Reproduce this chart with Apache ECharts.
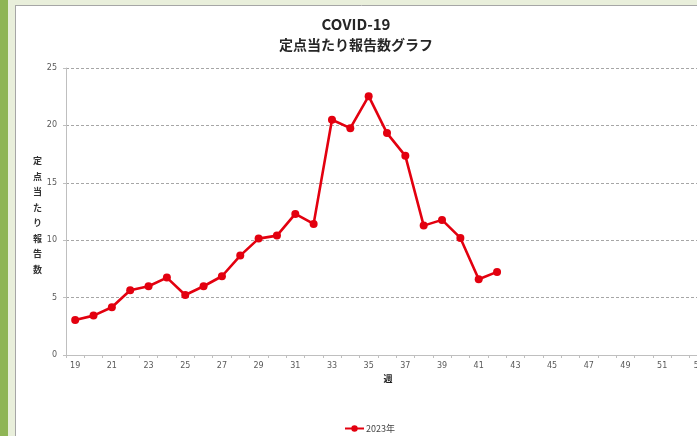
<!DOCTYPE html>
<html><head><meta charset="utf-8">
<script src="https://cdn.jsdelivr.net/npm/echarts@6/dist/echarts.min.js"></script>
<style>html,body{margin:0;padding:0;background:#fff;overflow:hidden;width:697px;height:436px}#c{width:708px;height:436px}</style>
</head><body><div id="c"></div>
<script>
const weeks = [];
for (let w = 19; w <= 53; w++) weeks.push(String(w));
const values2023 = [3.05,3.43,4.16,5.64,5.99,6.74,5.23,5.99,6.86,8.66,10.14,10.40,12.29,11.42,20.49,19.76,22.55,19.33,17.35,11.27,11.77,10.20,6.60,7.24];
const seriesName = '2023年';
const titleLine1 = 'COVID-19';
const titleLine2 = '定点当たり報告数グラフ';
const yName = '定点当たり報告数';
const xName = '週';

const jp = '"Noto Sans CJK JP", "DejaVu Sans", sans-serif';
const chart = echarts.init(document.getElementById('c'));
chart.setOption({
  backgroundColor: '#ffffff',
  animation: false,
  graphic: [
    {type:'rect', x:0, y:0, shape:{width:8, height:436}, style:{fill:'#8fb555'}, z:-1},
    {type:'rect', x:8, y:0, shape:{width:700, height:5}, style:{fill:'#e9efdb'}, z:-1},
    {type:'rect', x:8, y:0, shape:{width:7, height:436}, style:{fill:'#e9efdb'}, z:-1},
    {type:'line', shape:{x1:15.5, y1:5, x2:15.5, y2:436}, style:{stroke:'#a6a6a6', lineWidth:1}, z:-1},
    {type:'line', shape:{x1:15, y1:5.5, x2:708, y2:5.5}, style:{stroke:'#a6a6a6', lineWidth:1}, z:-1},
    {type:'text', x:356, y:17, style:{text:titleLine1, font:'bold 15px ' + jp, fill:'#262626', textAlign:'center'}},
    {type:'text', x:356, y:38, style:{text:titleLine2, font:'bold 14px ' + jp, fill:'#262626', textAlign:'center'}},
    {type:'text', x:33, y:153, style:{text:yName.split('').join('\n'), font:'bold 9px ' + jp, lineHeight:15.5, fill:'#333', textAlign:'left'}},
    {type:'text', x:388, y:374, style:{text:xName, font:'bold 9px ' + jp, fill:'#222', textAlign:'center'}}
  ],
  legend: {
    data:[seriesName],
    left: 339, top: 419,
    itemWidth: 19, itemHeight: 8, itemGap: 4,
    textStyle:{fontSize:9, color:'#444', fontFamily: jp, padding:[0,0,0,-3]}
  },
  grid: {left:66, right:0, top:68, bottom:81},
  xAxis: {
    type:'category', data:weeks, boundaryGap:true,
    axisLine:{lineStyle:{color:'#bfbfbf', width:1}},
    axisTick:{show:true, interval:0, length:3, lineStyle:{color:'#bfbfbf'}},
    axisLabel:{interval:1, fontSize:8, color:'#595959', margin:7, fontFamily:'"DejaVu Sans", sans-serif'},
    splitLine:{show:false}
  },
  yAxis: {
    type:'value', min:0, max:25, interval:5,
    axisLine:{show:true, lineStyle:{color:'#bfbfbf', width:1}},
    axisTick:{show:true, length:3, lineStyle:{color:'#bfbfbf'}},
    axisLabel:{fontSize:8, color:'#595959', margin:9, fontFamily:'"DejaVu Sans", sans-serif'},
    splitLine:{show:true, lineStyle:{color:'#a6a6a6', type:[3,2], width:1}}
  },
  series: [{
    name:seriesName, type:'line', data:values2023,
    symbol:'circle', symbolSize:8,
    lineStyle:{color:'#e3000f', width:2.6},
    itemStyle:{color:'#e3000f'}
  }]
});
</script></body></html>
